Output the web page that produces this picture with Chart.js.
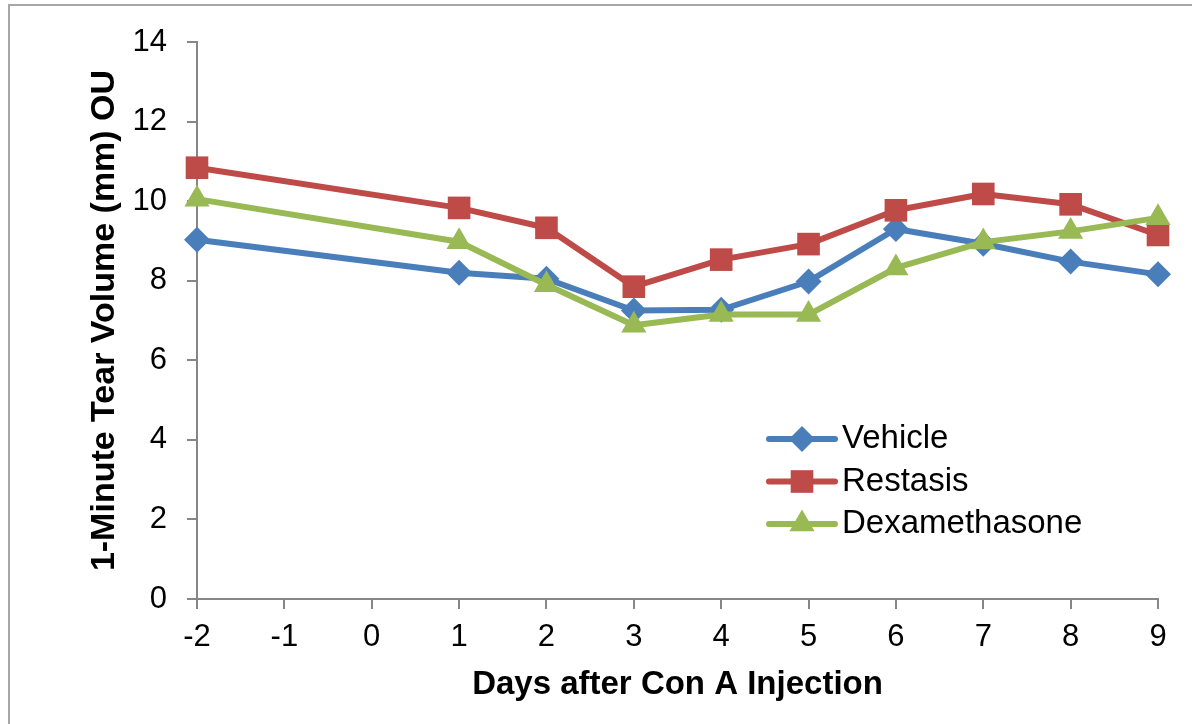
<!DOCTYPE html>
<html>
<head>
<meta charset="utf-8">
<script src="https://cdn.jsdelivr.net/npm/chart.js@4/dist/chart.umd.min.js"></script>
<style>
html,body{margin:0;padding:0;background:#fff;overflow:hidden;}
#wrap{position:relative;width:1192px;height:724px;overflow:hidden;}
#frame{position:absolute;left:8px;top:4px;width:1300px;height:900px;border:2px solid #a6a6a6;box-sizing:border-box;}
#c{position:absolute;left:0;top:0;}
</style>
</head>
<body>
<div id="wrap"><div id="frame"></div><canvas id="c" width="1192" height="724"></canvas></div>
<script>
// ---- data ----
const days = [-2, 1, 2, 3, 4, 5, 6, 7, 8, 9];
const vehicle = [9.03, 8.2, 8.05, 7.25, 7.27, 7.98, 9.3, 8.93, 8.48, 8.16];
const restasis = [10.84, 9.83, 9.33, 7.85, 8.53, 8.92, 9.77, 10.18, 9.92, 9.15];
const dexamethasone = [10.05, 8.98, 7.9, 6.88, 7.15, 7.15, 8.32, 8.97, 9.24, 9.58];
const seriesNames = ['Vehicle', 'Restasis', 'Dexamethasone'];
const xTitle = 'Days after Con A Injection';
const yTitle = '1-Minute Tear Volume (mm) OU';

const FONT = "'Liberation Sans', Arial, sans-serif";
const AXIS = '#868686';
const toPts = (ys) => days.map((d, i) => ({x: d, y: ys[i]}));

function shape(ctx, style, r, x, y) {
  ctx.beginPath();
  if (style === 'rect') {
    const s = Math.SQRT1_2 * r;
    ctx.rect(x - s, y - s, 2 * s, 2 * s);
  } else if (style === 'rectRot') {
    ctx.moveTo(x, y - r); ctx.lineTo(x + r, y); ctx.lineTo(x, y + r); ctx.lineTo(x - r, y); ctx.closePath();
  } else {
    ctx.moveTo(x, y - r);
    ctx.lineTo(x + Math.sin(2 * Math.PI / 3) * r, y - Math.cos(2 * Math.PI / 3) * r);
    ctx.lineTo(x + Math.sin(4 * Math.PI / 3) * r, y - Math.cos(4 * Math.PI / 3) * r);
    ctx.closePath();
  }
  ctx.fill();
}

const lineLegend = {
  id: 'lineLegend',
  afterDraw(chart) {
    const ctx = chart.ctx;
    const x0 = 769, x1 = 835, tx = 842;
    const y0 = 439, dy = 42.5;
    chart.data.datasets.forEach((ds, i) => {
      const y = y0 + i * dy;
      ctx.save();
      ctx.strokeStyle = ds.borderColor;
      ctx.lineWidth = 6;
      ctx.lineCap = 'round';
      ctx.beginPath(); ctx.moveTo(x0, y); ctx.lineTo(x1, y); ctx.stroke();
      ctx.fillStyle = ds.backgroundColor;
      shape(ctx, ds.pointStyle, ds.pointRadius, (x0 + x1) / 2, y);
      ctx.fillStyle = '#000';
      ctx.font = '33px ' + FONT;
      ctx.textBaseline = 'middle';
      ctx.textAlign = 'left';
      ctx.fillText(ds.label, tx, y);
      ctx.restore();
    });
  }
};

const common = {borderWidth: 6, borderJoinStyle: 'round', borderCapStyle: 'round', pointBorderWidth: 0, tension: 0, clip: false};

new Chart(document.getElementById('c'), {
  type: 'line',
  data: {
    datasets: [
      Object.assign({label: seriesNames[0], data: toPts(vehicle), borderColor: '#4A7EBB', backgroundColor: '#4A7EBB',
        pointStyle: 'rectRot', pointRadius: 13, pointHoverRadius: 13, order: 3}, common),
      Object.assign({label: seriesNames[1], data: toPts(restasis), borderColor: '#BE4B48', backgroundColor: '#BE4B48',
        pointStyle: 'rect', pointRadius: 16, pointHoverRadius: 16, order: 2}, common),
      Object.assign({label: seriesNames[2], data: toPts(dexamethasone), borderColor: '#98B954', backgroundColor: '#98B954',
        pointStyle: 'triangle', pointRadius: 14.5, pointHoverRadius: 14.5, order: 1}, common)
    ]
  },
  options: {
    responsive: false,
    animation: false,
    devicePixelRatio: 1,
    layout: {padding: {left: 0, top: 42, right: 34, bottom: 0}},
    plugins: {legend: {display: false}, tooltip: {enabled: false}},
    scales: {
      x: {
        type: 'linear', min: -2, max: 9,
        ticks: {stepSize: 1, color: '#000', font: {family: FONT, size: 31}, padding: 10},
        grid: {display: true, drawOnChartArea: false, drawTicks: true, tickLength: 10, color: AXIS, lineWidth: 2},
        border: {display: true, color: AXIS, width: 2},
        title: {display: true, text: xTitle, color: '#000', font: {family: FONT, size: 33, weight: 'bold'}, padding: {top: 0, bottom: 19}},
        afterFit(s) { s.height = 125; }
      },
      y: {
        min: 0, max: 14,
        ticks: {stepSize: 2, color: '#000', font: {family: FONT, size: 31}, padding: 20},
        grid: {display: true, drawOnChartArea: false, drawTicks: true, tickLength: 10, color: AXIS, lineWidth: 2},
        border: {display: true, color: AXIS, width: 2},
        title: {display: true, text: yTitle, color: '#000', font: {family: FONT, size: 34, weight: 'bold'}, padding: {top: 84, bottom: 0}},
        afterFit(s) { s.width = 197; }
      }
    }
  },
  plugins: [lineLegend]
});
</script>
</body>
</html>
